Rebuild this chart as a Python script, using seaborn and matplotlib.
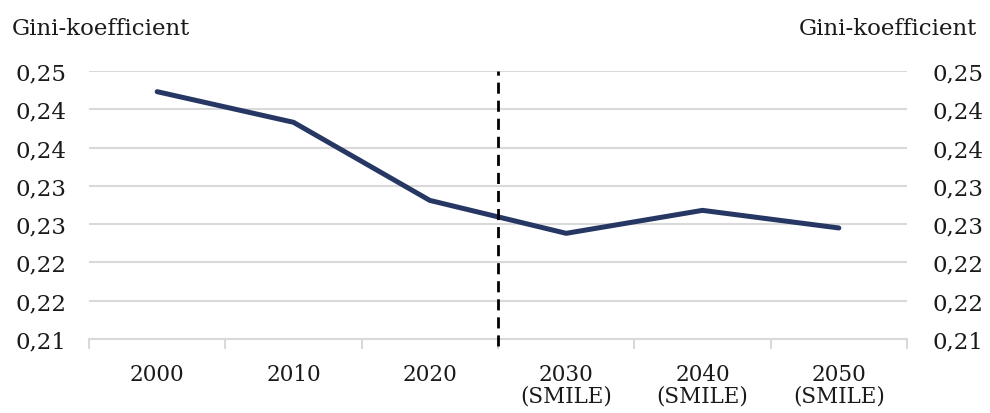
import matplotlib
matplotlib.use("Agg")
import matplotlib.pyplot as plt
from matplotlib.ticker import FixedLocator, FuncFormatter
from decimal import Decimal, ROUND_HALF_UP
import pandas as pd
import seaborn as sns

# Data
years = ["2000", "2010", "2020", "2030\n(SMILE)", "2040\n(SMILE)", "2050\n(SMILE)"]
gini = [0.2423, 0.2383, 0.2281, 0.2238, 0.2268, 0.2245]
y_ticks = [0.210, 0.215, 0.220, 0.225, 0.230, 0.235, 0.240, 0.245]
axis_title = "Gini-koefficient"

sns.set_theme(style="white")
plt.rcParams["font.family"] = ["DejaVu Serif"]

TEXT = "#1a1a1a"
GRID = "#d9d9d9"
LINE = "#263763"
FS = 16.5
FS_X = 15.5

df = pd.DataFrame({"pos": range(len(years)), "gini": gini})

fig = plt.figure(figsize=(9.9, 4.14), dpi=100)
ax = fig.add_axes([89 / 990, 1 - 340 / 414, (907 - 89) / 990, (340 - 72) / 414])

sns.lineplot(data=df, x="pos", y="gini", ax=ax, color=LINE, linewidth=3.6,
             solid_capstyle="round", solid_joinstyle="round", zorder=3)

ax.set_xlim(-0.5, len(years) - 0.5)
ax.set_ylim(y_ticks[0], y_ticks[-1])


def comma_fmt(v, _pos=None):
    d = Decimal(str(round(v, 4))).quantize(Decimal("0.01"), rounding=ROUND_HALF_UP)
    return f"{d}".replace(".", ",")


ax.yaxis.set_major_locator(FixedLocator(y_ticks))
ax.yaxis.set_major_formatter(FuncFormatter(comma_fmt))
ax.grid(axis="y", color=GRID, linewidth=1.5, zorder=0)
ax.tick_params(axis="y", length=0, pad=16, labelsize=FS, labelcolor=TEXT)

# Category boundaries as tick marks, labels centred between them
ax.xaxis.set_major_locator(FixedLocator([i - 0.5 for i in range(len(years) + 1)]))
ax.xaxis.set_major_formatter(FuncFormatter(lambda v, p: ""))
ax.xaxis.set_minor_locator(FixedLocator(list(range(len(years)))))
ax.set_xticklabels(years, minor=True, linespacing=1.0)
ax.tick_params(axis="x", which="major", bottom=True, length=7, width=1.5,
               color=GRID, direction="out")
ax.tick_params(axis="x", which="minor", bottom=True, length=0, pad=17,
               labelsize=FS_X, labelcolor=TEXT)
ax.set_xlabel("")
ax.set_ylabel("")

for side in ["top", "left", "right"]:
    ax.spines[side].set_visible(False)
ax.spines["bottom"].set_color(GRID)
ax.spines["bottom"].set_linewidth(1.5)

# Separator between historical data and projections
ax.axvline(2.5, ymin=-0.025, ymax=1.0, color="black", linewidth=2,
           linestyle=(0, (4, 2.5)), zorder=4, clip_on=False)

# Mirror axis on the right
ax2 = ax.twinx()
ax2.set_ylim(ax.get_ylim())
ax2.yaxis.set_major_locator(FixedLocator(y_ticks))
ax2.yaxis.set_major_formatter(FuncFormatter(comma_fmt))
ax2.tick_params(axis="y", length=0, pad=18, labelsize=FS, labelcolor=TEXT)
for side in ["top", "left", "right", "bottom"]:
    ax2.spines[side].set_visible(False)
ax2.grid(False)

fig.text(12 / 990, 1 - 29 / 414, axis_title, ha="left", va="center", fontsize=FS, color=TEXT)
fig.text(977 / 990, 1 - 29 / 414, axis_title, ha="right", va="center", fontsize=FS, color=TEXT)

fig.savefig("out.png", dpi=100, facecolor="white")
